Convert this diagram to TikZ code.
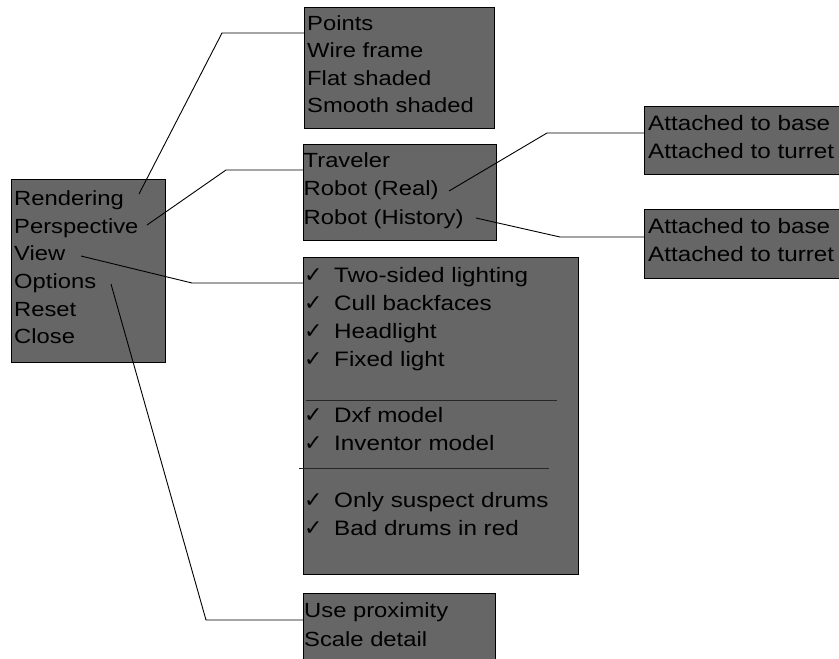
\documentclass[tikz,border=0pt]{standalone}
\usepackage{fontspec}
\setmainfont{Liberation Sans}[FakeStretch=1.16]
\newfontfamily\checkfont{DejaVu Sans}
\definecolor{boxgray}{RGB}{102,102,102}
\begin{document}
\begin{tikzpicture}[x=1pt,y=-1pt,
  menubox/.style={draw=black, line width=1.3pt, fill=boxgray, inner sep=0pt, anchor=north west},
  lbl/.style={anchor=base west, inner sep=0pt, text=black, font=\fontsize{20.5}{28}\selectfont},
  vlbl/.style={anchor=base west, inner sep=0pt, text=black, font=\fontsize{20.9}{28}\selectfont},
  chk/.style={anchor=base west, inner sep=0pt, text=black, font=\checkfont\fontsize{22}{28}\selectfont},
  conn/.style={draw=black, line width=0.9pt},
  sepline/.style={draw=black!85, line width=0.9pt}]
\useasboundingbox (0,0) rectangle (839,659);
\clip (0,0) rectangle (839,659);
% boxes
\node[menubox, minimum width=154pt, minimum height=183pt] (main) at (11,179) {};
\node[menubox, minimum width=190pt, minimum height=121pt] (rend) at (304,7) {};
\node[menubox, minimum width=193pt, minimum height=96pt] (persp) at (303,144) {};
\node[menubox, minimum width=205pt, minimum height=68pt] (att1) at (644,106) {};
\node[menubox, minimum width=205pt, minimum height=69pt] (att2) at (644,209) {};
\node[menubox, minimum width=275pt, minimum height=317pt] (view) at (303,257) {};
\node[menubox, minimum width=192pt, minimum height=80pt] (opts) at (303,593) {};
% main menu
\node[lbl] (tRend) at (14,205.7) {Rendering};
\node[lbl] (tPersp) at (14,233.3) {Perspective};
\node[lbl] (tView) at (14,260.9) {View};
\node[lbl] (tOpt) at (14,288.5) {Options};
\node[lbl] (tReset) at (14,316.1) {Reset};
\node[lbl] (tClose) at (14,343.7) {Close};
% rendering
\node[lbl] (r1) at (307,30) {Points};
\node[lbl] (r2) at (307,57.5) {Wire frame};
\node[lbl] (r3) at (307,85) {Flat shaded};
\node[lbl] (r4) at (307,112.5) {Smooth shaded};
% perspective
\node[lbl] (p1) at (303.5,167.3) {Traveler};
\node[lbl] (p2) at (303.5,195.7) {Robot (Real)};
\node[lbl] (p3) at (303.5,224) {Robot (History)};
% attached
\node[vlbl] (a1) at (648,130) {Attached to base};
\node[vlbl] (a2) at (648,158.3) {Attached to turret};
\node[vlbl] (a3) at (648,233) {Attached to base};
\node[vlbl] (a4) at (648,261.7) {Attached to turret};
% view
\foreach \y/\t [count=\i] in {282.3/Two-sided lighting, 310.4/Cull backfaces, 338.5/Headlight, 366.6/Fixed light, 422.8/Dxf model, 450.9/Inventor model, 507.1/Only suspect drums, 535.2/Bad drums in red}{
  \node[chk] (c\i) at (304,\y) {✓};
  \node[vlbl] (v\i) at (334,\y) {\t};
}
\draw[sepline] (306,400) -- (557,400);
\draw[sepline] (299,468) -- (549,468);
% options
\node[lbl] (o1) at (304,617.7) {Use proximity};
\node[lbl] (o2) at (304,646) {Scale detail};
% connectors
\coordinate (sR) at (139,194); \coordinate (kR) at (222,33);
\coordinate (sP) at (147,225); \coordinate (kP) at (226,170);
\coordinate (sV) at (81,256);  \coordinate (kV) at (192,283);
\coordinate (sO) at (111,284); \coordinate (kO) at (206,620);
\coordinate (sRR) at (449,191); \coordinate (kRR) at (547,133);
\coordinate (sRH) at (476,218); \coordinate (kRH) at (560,237);
\draw[conn] (sR) -- (kR) -- (kR -| rend.west);
\draw[conn] (sP) -- (kP) -- (kP -| persp.west);
\draw[conn] (sV) -- (kV) -- (kV -| view.west);
\draw[conn] (sO) -- (kO) -- (kO -| opts.west);
\draw[conn] (sRR) -- (kRR) -- (kRR -| att1.west);
\draw[conn] (sRH) -- (kRH) -- (kRH -| att2.west);
\end{tikzpicture}
\end{document}
